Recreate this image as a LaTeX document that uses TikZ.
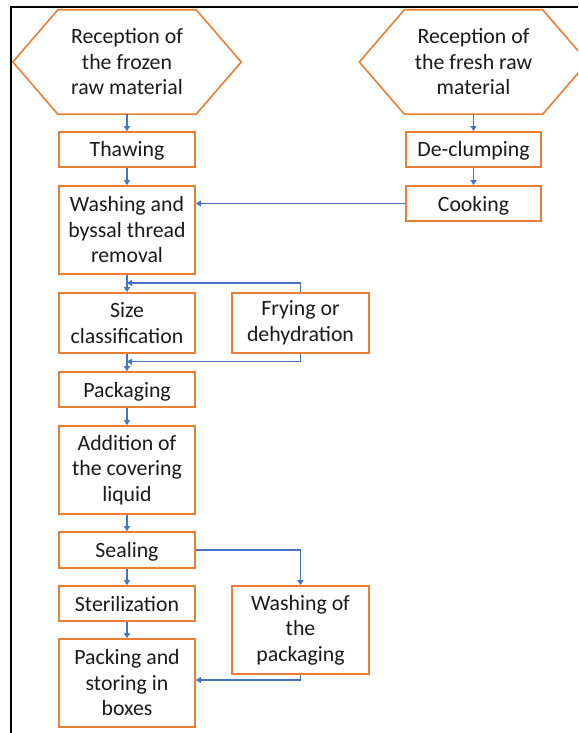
\documentclass[tikz,border=0pt]{standalone}
\usepackage{fontspec}
\setmainfont{Carlito}
\usetikzlibrary{arrows.meta,calc}
\definecolor{boxorange}{HTML}{ED7D31}
\definecolor{flowblue}{HTML}{4472C4}
\definecolor{txt}{HTML}{1A1A1A}
\begin{document}
\begin{tikzpicture}[x=1pt,y=-1pt,
  every node/.style={font=\fontsize{21.8}{25.5}\selectfont, text=txt, align=center, inner sep=0pt},
  stepbox/.style={draw=boxorange, line width=1.8pt, minimum width=136pt},
  oneline/.style={text height=17pt, text depth=2pt},
  hexbox/.style={minimum width=228pt, minimum height=104pt},
  hexline/.style={draw=boxorange, line width=1.6pt},
  flow/.style={draw=flowblue, line width=1.5pt, -{Triangle[width=6pt,length=5pt]}}
]
\useasboundingbox (0,0) rectangle (578,733);
\clip (0,0) rectangle (578,733);

% outer frame (left and top edges)
\draw[line width=2.2pt] (11,733) -- (11,7) -- (578,7);

% hexagonal start nodes
\node[hexbox] (hexL) at (127,62) {Reception of\\the frozen\\raw material};
\node[hexbox] (hexR) at (473.5,62) {Reception of\\the fresh raw\\material};
\foreach \h in {hexL,hexR}{
  \draw[hexline] (\h.west) -- ([xshift=45pt]\h.north west) -- ([xshift=-45pt]\h.north east)
    -- (\h.east) -- ([xshift=-45pt]\h.south east) -- ([xshift=45pt]\h.south west) -- cycle;
}

% main column
\node[stepbox, oneline, minimum height=35pt] (thaw) at (127,149.5) {Thawing};
\node[stepbox, minimum height=88pt] (wash) at (127,230) {Washing and\\byssal thread\\removal};
\node[stepbox, minimum height=60pt] (size) at (127,323) {Size\\classification};
\node[stepbox, oneline, minimum height=35pt] (pack) at (127,389.5) {Packaging};
\node[stepbox, minimum height=88pt] (add) at (127,470) {Addition of\\the covering\\liquid};
\node[stepbox, oneline, minimum height=36pt] (seal) at (127,550) {Sealing};
\node[stepbox, oneline, minimum height=35pt] (ster) at (127,603.5) {Sterilization};
\node[stepbox, minimum height=88pt] (store) at (127,683) {Packing and\\storing in\\boxes};

% side branches
\node[stepbox, minimum width=137pt, minimum height=60pt] (fry) at (300.5,323) {Frying or\\dehydration};
\node[stepbox, minimum width=137pt, minimum height=88pt] (washpk) at (300.5,630) {Washing of\\the\\packaging};
\node[stepbox, oneline, minimum width=135pt, minimum height=35pt] (declump) at (473.5,149.5) {De-clumping};
\node[stepbox, oneline, minimum width=135pt, minimum height=35pt] (cook) at (473.5,203.5) {Cooking};

% junction points on the main line
\coordinate (j1) at ($(wash.south)!0.47!(size.north)$);
\coordinate (j2) at ($(size.south)!0.45!(pack.north)$);

% connectors
\draw[flow] (hexL.south) -- (thaw.north);
\draw[flow] (thaw.south) -- (wash.north);
\draw[flow] (wash.south) -- (size.north);
\draw[flow] (size.south) -- (pack.north);
\draw[flow] (pack.south) -- (add.north);
\draw[flow] (add.south) -- (seal.north);
\draw[flow] (seal.south) -- (ster.north);
\draw[flow] (ster.south) -- (store.north);

\draw[flow] (hexR.south) -- (declump.north);
\draw[flow] (declump.south) -- (cook.north);
\draw[flow] (cook.west) -- (cook.west -| wash.east);

\draw[flow] (fry.north) |- (j1);
\draw[flow] (fry.south) |- (j2);

\draw[flow] (seal.east) -| (washpk.north);
\draw[flow] (washpk.south) |- ([yshift=3pt]store.east);
\end{tikzpicture}
\end{document}
